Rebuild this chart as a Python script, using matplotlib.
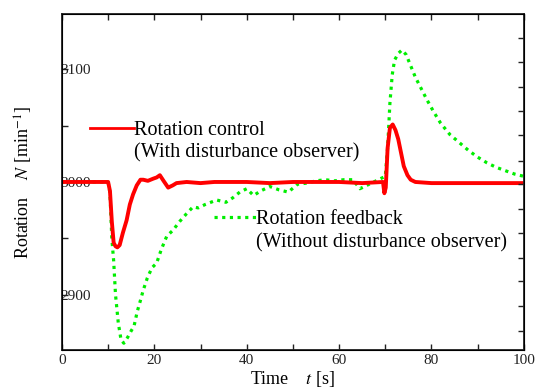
import matplotlib
matplotlib.use('Agg')
import matplotlib.pyplot as plt
from matplotlib.lines import Line2D

# Rotation control (with disturbance observer)
t_ctrl = [0, 5, 10, 10.4, 10.8, 11.2, 11.6, 12.0, 12.5, 13.2, 14.0, 14.7, 15.4, 16.2,
          17.0, 17.6, 18.6, 19.8, 20.5, 21.2, 22.0, 23.0, 24.0, 24.8, 27, 30, 33, 36,
          40, 45, 50, 55, 60, 65, 69.5, 69.8, 70.1, 70.5, 71.0, 71.6, 72.2, 72.8,
          73.4, 74.0, 74.8, 75.5, 76.5, 80, 85, 90, 95, 100]
n_ctrl = [3000, 3000, 3000, 2992, 2965, 2946, 2943, 2942, 2944, 2955, 2966, 2980, 2989, 2997,
          3002, 3002, 3001, 3003, 3004, 3006, 3001, 2995, 2997, 2999, 3000, 2999, 3000, 3000,
          3000, 2999, 3000, 3000, 3000, 2999, 3000, 2990, 2995, 3030, 3048, 3051, 3046, 3038,
          3026, 3014, 3006, 3002, 3000, 2999, 2999, 2999, 2999, 2999]

# Rotation feedback (without disturbance observer)
t_fb = [0, 5, 10, 10.4, 10.8, 11.2, 11.6, 12.2, 12.8, 13.4, 14.2, 15.0, 15.6, 16.3,
        17.0, 17.6, 18.5, 19.5, 20.5, 21.5, 22.7, 24.0, 25.5, 27.0, 28.4, 29.5, 31.0,
        33.5, 35.5, 37.0, 38.5, 40.0, 41.5, 43.0, 45.0, 47.0, 49.0, 51.0, 53.0, 55.0,
        57.0, 59.0, 61.0, 63.0, 64.5, 66.0, 68.0, 69.5, 70.0, 70.5, 71.0, 71.5, 72.0,
        72.8, 73.6, 74.5, 75.5, 76.5, 77.5, 79.0, 80.5, 82.0, 84.0, 86.0, 88.0, 90.0,
        92.0, 94.0, 96.0, 98.0, 100.0]
n_fb = [3000, 3000, 3000, 2990, 2950, 2930, 2900, 2875, 2860, 2857, 2862, 2868, 2872, 2885,
        2895, 2904, 2915, 2924, 2928, 2940, 2952, 2957, 2965, 2972, 2978, 2977, 2980,
        2984, 2982, 2986, 2991, 2994, 2988, 2992, 2996, 2993, 2991, 2998, 2999, 3001,
        3002, 3001, 3002, 3002, 2994, 2997, 3001, 3004, 3005, 3030, 3070, 3095, 3108,
        3114, 3117, 3113, 3103, 3093, 3085, 3073, 3062, 3052, 3042, 3035, 3028, 3022,
        3017, 3013, 3010, 3007, 3005]

x_major = [0, 20, 40, 60, 80, 100]
x_minor = [10, 30, 50, 70, 90]
y_major = [2900, 3000, 3100]
y_minor = [2950, 3050]
y_right = [2868, 2890, 2912, 2933, 2955, 2976, 2998, 3019, 3042, 3063, 3084, 3106, 3128]

plt.rcParams['font.family'] = ['Liberation Serif', 'DejaVu Serif']
plt.rcParams['mathtext.fontset'] = 'stix'

fig = plt.figure(figsize=(5.48, 3.88), dpi=100)
ax = fig.add_axes([0.113, 0.098, 0.843, 0.866])

red = '#ff0000'
green = '#00ee00'
dots = (0, (1, 1.4))
ax.plot(t_fb, n_fb, color=green, lw=2.3, ls=dots)
ax.plot(t_ctrl, n_ctrl, color=red, lw=2.8)

ax.set_xlim(0, 100)
ax.set_ylim(2851, 3149)
ax.set_xticks(x_major)
ax.set_xticks(x_minor, minor=True)
ax.set_yticks(y_major)
ax.set_yticks(y_minor, minor=True)
ax.tick_params(which='both', direction='in', top=True, right=False, length=4, width=1,
               labelsize=11, colors='#222222')
ax.tick_params(axis='x', pad=3)
ax.tick_params(axis='y', pad=1)
for lab in ax.get_yticklabels():
    lab.set_horizontalalignment('left')
for s in ax.spines.values():
    s.set_linewidth(1.3)
    s.set_color('#222222')

# right axis has its own tick spacing
ax2 = ax.twinx()
ax2.set_ylim(ax.get_ylim())
ax2.set_yticks(y_right)
ax2.tick_params(direction='in', length=4, width=1, labelright=False, colors='#222222')

ax.set_xlabel('Time    $t$ [s]', fontsize=13, labelpad=1)
ax.set_ylabel('Rotation    $N$ [min$^{-1}$]', fontsize=13, labelpad=16)

leg1 = ax.legend(handles=[Line2D([], [], color=red, lw=2),
                          Line2D([], [], color='none')],
                 labels=['Rotation control', '(With disturbance observer)'],
                 loc='center left', bbox_to_anchor=(0.06, 0.62), frameon=False,
                 fontsize=14.5, handlelength=2.2, handletextpad=0.0,
                 labelspacing=0.2, borderpad=0, borderaxespad=0)
ax.add_artist(leg1)
ax.legend(handles=[Line2D([], [], color=green, lw=2.3, ls=dots),
                   Line2D([], [], color='none')],
          labels=['Rotation feedback', '(Without disturbance observer)'],
          loc='center left', bbox_to_anchor=(0.33, 0.353), frameon=False,
          fontsize=14.5, handlelength=2.05, handletextpad=0.0,
          labelspacing=0.2, borderpad=0, borderaxespad=0)

fig.savefig('out.png', dpi=100)
